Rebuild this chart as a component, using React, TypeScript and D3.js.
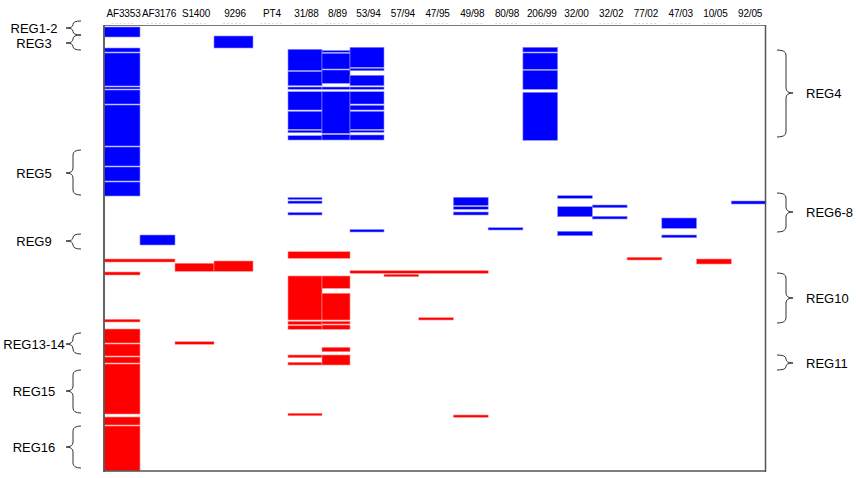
import React from "react";
import * as d3 from "d3";

const strains = [
  "AF3353", "AF3176", "S1400", "9296", "PT4", "31/88", "8/89", "53/94", "57/94", "47/95",
  "49/98", "80/98", "206/99", "32/00", "32/02", "77/02", "47/03", "10/05", "92/05",
];

// [strain, start, end, columns spanned]
type Seg = [string, number, number, number?];

const blueSegments: Seg[] = [
  ["AF3353", 2, 12], ["AF3353", 23, 27], ["AF3353", 28, 61], ["AF3353", 62, 64],
  ["AF3353", 65, 79], ["AF3353", 80, 121], ["AF3353", 122, 141], ["AF3353", 142, 156],
  ["AF3353", 157, 171],
  ["AF3176", 210, 220],
  ["9296", 11, 23],
  ["31/88", 24.3, 45.5], ["31/88", 46.5, 60.7], ["31/88", 62, 64.3], ["31/88", 66.7, 85],
  ["31/88", 86.3, 104.3], ["31/88", 105.3, 107.7], ["31/88", 110.7, 115],
  ["31/88", 172.5, 174.5], ["31/88", 176, 178.5], ["31/88", 187.5, 190],
  ["8/89", 25.5, 27.3], ["8/89", 28.3, 44], ["8/89", 45, 58.3], ["8/89", 62, 64.3],
  ["8/89", 66.7, 108.3], ["8/89", 109.7, 115],
  ["53/94", 22.3, 42.3], ["53/94", 43.3, 45.7], ["53/94", 50.3, 60.7], ["53/94", 62, 64.3],
  ["53/94", 66.7, 79], ["53/94", 80.3, 85], ["53/94", 86.3, 104.3], ["53/94", 105.3, 107.3],
  ["53/94", 110, 115], ["53/94", 204.5, 207],
  ["49/98", 172.3, 180.5], ["49/98", 181.7, 184.3], ["49/98", 187, 190],
  ["80/98", 202.7, 205],
  ["206/99", 22.3, 27], ["206/99", 28, 44.3], ["206/99", 45.3, 64.3], ["206/99", 67.3, 115.3],
  ["32/00", 170.7, 173.3], ["32/00", 181.7, 191.7], ["32/00", 206.3, 210.7],
  ["32/02", 180, 182.7], ["32/02", 191.3, 194],
  ["47/03", 193, 203.3], ["47/03", 210, 212.7],
  ["92/05", 176, 179],
];

const redSegments: Seg[] = [
  ["AF3353", 234, 237, 2],
  ["AF3353", 247, 250], ["AF3353", 294.3, 297], ["AF3353", 304, 318], ["AF3353", 319, 331],
  ["AF3353", 332, 338], ["AF3353", 339, 389], ["AF3353", 392, 400], ["AF3353", 401, 446],
  ["S1400", 238.3, 246.3], ["S1400", 316.7, 319.3],
  ["9296", 236, 246.3],
  ["31/88", 226.7, 233.3, 2],
  ["31/88", 251, 295], ["31/88", 296.3, 299.5], ["31/88", 300.7, 304.3], ["31/88", 330, 332.7],
  ["31/88", 337.3, 340], ["31/88", 388.3, 390.7],
  ["8/89", 251, 263.3], ["8/89", 268.3, 295], ["8/89", 296.3, 299], ["8/89", 300, 304.3],
  ["8/89", 322.3, 326.7], ["8/89", 330, 340],
  ["53/94", 245.7, 248.3, 4],
  ["57/94", 249.3, 251.7],
  ["47/95", 292.7, 295],
  ["49/98", 390, 392.3],
  ["77/02", 232.3, 235],
  ["10/05", 234, 239],
];

// [label, top, tip, bottom]
const leftRegions: [string, number, number, number][] = [
  ["REG1-2", -4, 3, 10],
  ["REG3", 10, 18, 25],
  ["REG5", 125, 148, 170],
  ["REG9", 209, 216, 224],
  ["REG13-14", 308, 319, 329],
  ["REG15", 345, 366, 388],
  ["REG16", 401, 422, 443],
];

const rightRegions: [string, number, number, number][] = [
  ["REG4", 25, 68, 112],
  ["REG6-8", 168, 187, 207],
  ["REG10", 248, 273, 298],
  ["REG11", 330, 338, 345],
];

const W = 856;
const H = 478;
const FONT = "'Liberation Sans', Arial, sans-serif";

function bracePath(xTip: number, xMid: number, xEnd: number, yTop: number, yTip: number, yBot: number) {
  const r1 = Math.min(5, (yTip - yTop) / 2);
  const r2 = Math.min(5, (yBot - yTip) / 2);
  return `M${xEnd},${yTop} Q${xMid},${yTop} ${xMid},${yTop + r1} L${xMid},${yTip - r1} Q${xMid},${yTip} ${xTip},${yTip} Q${xMid},${yTip} ${xMid},${yTip + r2} L${xMid},${yBot - r2} Q${xMid},${yBot} ${xEnd},${yBot}`;
}

export default function App() {
  const colIndex = d3.scaleOrdinal<string, number>().domain(strains).range(strains.map((_, i) => i));
  const x = d3
    .scaleLinear()
    .domain([0, 1, 2, 3, 4, 5, 6, 7, 8, 19])
    .range([104, 140, 175, 214, 253, 288, 322, 350, 384, 766]);
  const y = d3.scaleLinear().domain([0, 446]).range([25, 471]);

  const plotLeft = x(0);
  const plotRight = x(strains.length) - 0.5;
  const plotTop = y(0);
  const plotBottom = y(446);

  const drawSegs = (segs: Seg[], fill: string, stroke: string, key: string) =>
    segs.map((s, i) => {
      const c = colIndex(s[0]);
      const span = s[3] ?? 1;
      const x0 = x(c);
      const x1 = x(c + span);
      return (
        <rect
          key={key + i}
          x={x0}
          y={y(s[1])}
          width={x1 - x0}
          height={Math.max(1, y(s[2]) - y(s[1]))}
          fill={fill}
          stroke={stroke}
          strokeWidth={0.6}
        />
      );
    });

  return (
    <svg
      width={W}
      height={H}
      style={{ position: "absolute", left: 0, top: 0, display: "block", background: "#fff" }}
      fontFamily={FONT}
    >
      <rect x={0} y={0} width={W} height={H} fill="#fff" />
      {/* column labels */}
      {strains.map((s, i) => {
        const cx = (x(i) + x(i + 1)) / 2 + 1.5;
        return (
          <g key={s}>
            <text x={cx} y={17} fontSize={10} textAnchor="middle" letterSpacing={-0.15} fill="#000">
              {s}
            </text>
            <line x1={cx - 12} x2={cx + 12} y1={23.5} y2={23.5} stroke="#dcdcdc" strokeDasharray="2,2" />
          </g>
        );
      })}

      {/* marks */}
      {drawSegs(blueSegments, "#0000ff", "#8c8cff", "b")}
      {drawSegs(redSegments, "#ff0000", "#ff8c8c", "r")}

      {/* frame */}
      <line x1={plotLeft} x2={plotRight} y1={plotTop + 0.5} y2={plotTop + 0.5} stroke="#777" strokeWidth={1} />
      <line x1={plotLeft} x2={plotRight} y1={plotBottom} y2={plotBottom} stroke="#555" strokeWidth={1.5} />
      <line x1={plotLeft} x2={plotLeft} y1={plotTop} y2={plotBottom + 1} stroke="#555" strokeWidth={1.8} />
      <line x1={plotRight} x2={plotRight} y1={plotTop} y2={plotBottom + 1} stroke="#555" strokeWidth={1.5} />

      {/* left region annotations */}
      {leftRegions.map(([label, t, tip, b]) => (
        <g key={label}>
          <path d={bracePath(66, 73, 81, y(t), y(tip), y(b))} fill="none" stroke="#333" strokeWidth={1} />
          <text x={34} y={y(tip) + 4.7} fontSize={13} textAnchor="middle" fill="#000">
            {label}
          </text>
        </g>
      ))}

      {/* right region annotations */}
      {rightRegions.map(([label, t, tip, b]) => (
        <g key={label}>
          <path d={bracePath(793, 786, 777, y(t), y(tip), y(b))} fill="none" stroke="#333" strokeWidth={1} />
          <text x={806} y={y(tip) + 4.7} fontSize={13} textAnchor="start" fill="#000">
            {label}
          </text>
        </g>
      ))}
    </svg>
  );
}
